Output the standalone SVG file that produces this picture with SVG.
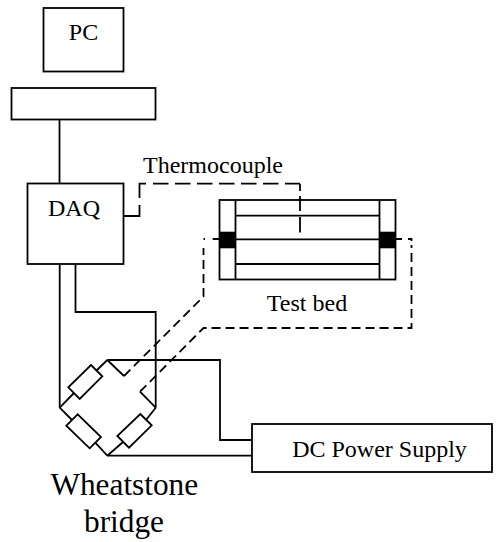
<svg xmlns="http://www.w3.org/2000/svg" width="498" height="542" viewBox="0 0 498 542">
<style>
rect,path,polygon{fill:none;stroke:#000;stroke-width:1.8}
.white{fill:#fff}
.blk{fill:#000;stroke:none}
.dash{stroke-dasharray:15.5 6.5}
.dash2{stroke-dasharray:9 5}
text{font-family:"Liberation Serif","Times New Roman",serif;fill:#000;font-size:24px}
.big{font-size:31.300px}
</style>
<rect width="498" height="542" style="fill:#fff;stroke:none"/>
<g id="connectors">
<path d="M59.500 120V183.500"/>
<path d="M124 216H139.500V205"/>
<path d="M139.500 198V183.700H146"/>
<path class="dash" d="M153 183.700H300"/>
<path d="M300 183.700V191"/>
<path d="M300 196V211M300 217V232.500"/>
<path d="M59.700 264V407.700"/>
<path d="M75.500 264V312H155.700V407.700"/>
<path d="M107.300 360H220V440H252"/>
<path d="M107.300 455.700H252"/>
<path d="M107.300 360L124 376"/>
<path class="dash2" d="M124 376L203.500 296.500V248"/>
<path d="M203.500 239H205M212.700 239H219"/>
<path d="M155.700 407.700L140 391.700"/>
<path class="dash2" d="M140 391.700L203.500 328H411.500V245"/>
<path d="M396 239H402M408 239H411.500V241"/>
<path d="M107.300 360L96 371"/>
<path d="M74 393L59.700 407.700"/>
<path d="M59.700 407.700L72 420"/>
<path d="M95.300 442.700L107.300 455.700"/>
<path d="M107.300 455.700L123 442"/>
<path d="M146 420L155.700 407.700"/>
</g>
<g id="pc"><rect x="43.500" y="8" width="80" height="63.500"/><text x="83.500" y="40" text-anchor="middle">PC</text></g>
<g id="interface"><rect x="11.500" y="88" width="144" height="31.500"/></g>
<g id="daq"><rect x="27.500" y="183.500" width="96" height="80.500"/><text x="74" y="216" text-anchor="middle">DAQ</text></g>
<g id="thermocouple-label"><text x="143" y="173">Thermocouple</text></g>
<g id="test-bed">
<rect x="219.500" y="200" width="176" height="79.500"/>
<path d="M235.500 200V279.500M379.500 200V279.500M235.500 215.700H379.500M235.500 239.300H379.500M235.500 264H379.500"/>
<rect class="blk" x="219" y="231.700" width="17" height="16.600"/>
<rect class="blk" x="379" y="231.700" width="17" height="16.600"/>
<text x="307" y="311" text-anchor="middle">Test bed</text>
</g>
<g id="r1"><polygon class="white" points="91,365 102.300,376.300 79.700,399 68.300,387.300"/></g>
<g id="r2"><polygon class="white" points="77.700,414.300 101,437 89.700,448.300 66.300,425.700"/></g>
<g id="r3"><polygon class="white" points="140.300,414 151.700,425.300 129,447.700 117.300,436"/></g>
<g id="dc-power"><rect x="252" y="424" width="240" height="48"/><text x="379.500" y="456.700" text-anchor="middle">DC Power Supply</text></g>
<g id="bridge-label"><text class="big" x="124.300" y="495" text-anchor="middle">Wheatstone</text><text class="big" x="124" y="531.700" text-anchor="middle">bridge</text></g>
</svg>
